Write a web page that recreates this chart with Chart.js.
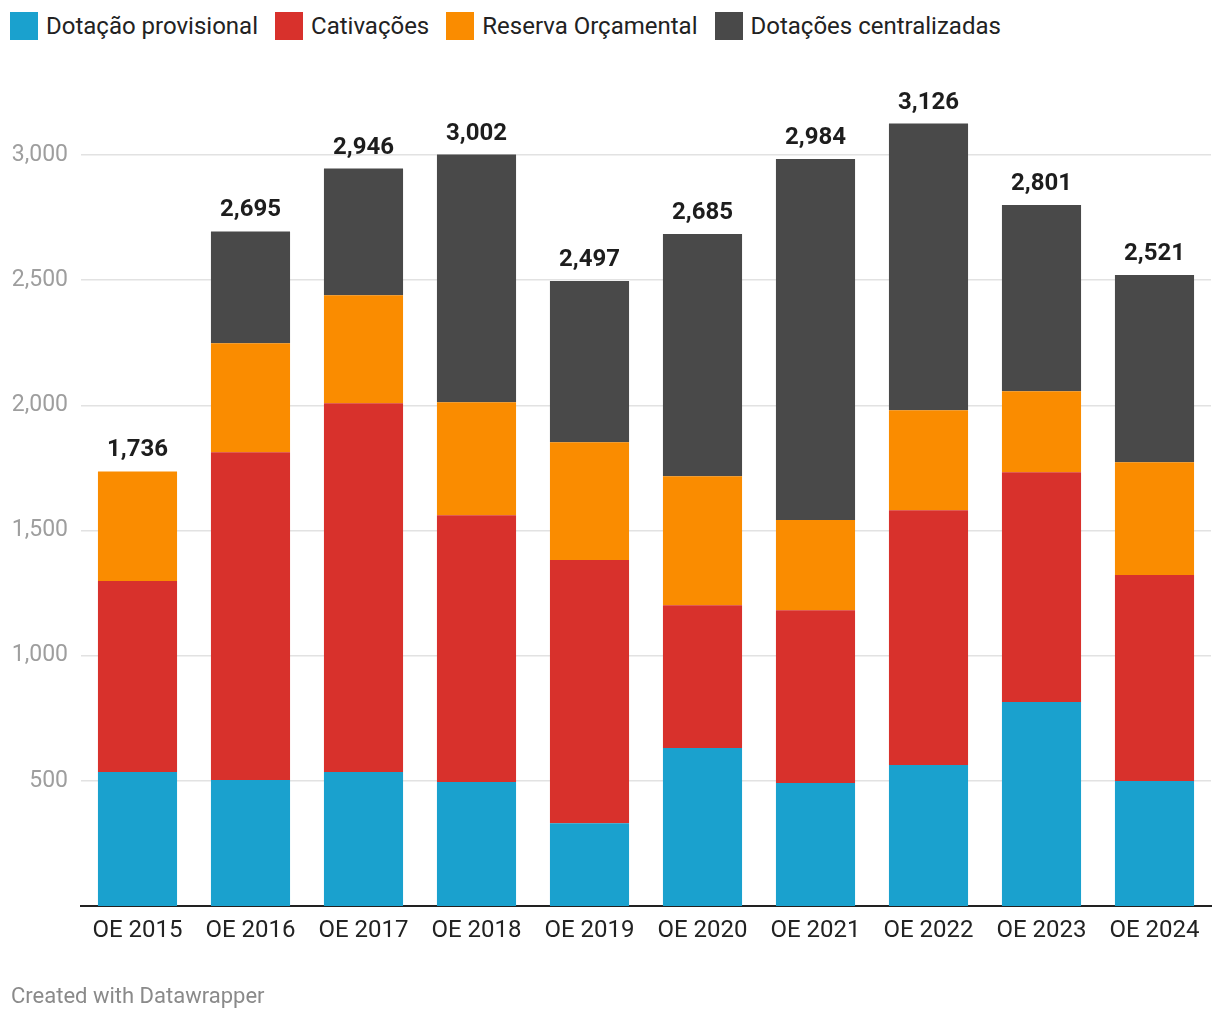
<!DOCTYPE html>
<html>
<head>
<meta charset="utf-8">
<script src="https://cdn.jsdelivr.net/npm/chart.js@4"></script>
<style>
  html, body { margin: 0; padding: 0; background: #fff; }
  body { width: 1220px; height: 1020px; position: relative; overflow: hidden; font-family: Roboto, sans-serif; }
  #legend { position: absolute; left: 10px; top: 12px; display: flex; align-items: center; font-size: 24px; color: #222; }
  .item { display: flex; align-items: center; margin-right: 17px; }
  .sw { width: 28px; height: 28px; margin-right: 8px; }
  #footer { position: absolute; left: 11px; top: 983px; font-size: 22px; color: #8a8a8a; }
  #wrap { position: absolute; left: 0; top: 0; width: 1220px; height: 1020px; }
</style>
</head>
<body>
<div id="legend"></div>
<div id="wrap"><canvas id="c" width="1220" height="1020"></canvas></div>
<div id="footer">Created with Datawrapper</div>
<script>
const categories = ["OE 2015","OE 2016","OE 2017","OE 2018","OE 2019","OE 2020","OE 2021","OE 2022","OE 2023","OE 2024"];
const seriesNames = ["Dotação provisional","Cativações","Reserva Orçamental","Dotações centralizadas"];
const dotacaoProvisional = [535, 503, 535, 495, 331, 631, 491, 563, 815, 499];
const cativacoes          = [763, 1310, 1474, 1066, 1051, 571, 691, 1018, 918, 823];
const reservaOrcamental   = [438, 435, 431, 452, 471, 515, 360, 400, 324, 451];
const dotacoesCentral     = [0, 447, 506, 989, 644, 968, 1442, 1145, 744, 748];
const yTicks = [500, 1000, 1500, 2000, 2500, 3000];
const colors = ["#1aa1ce", "#d8312c", "#fa8c00", "#494949"];

const seriesData = [dotacaoProvisional, cativacoes, reservaOrcamental, dotacoesCentral];

const legend = document.getElementById('legend');
seriesNames.forEach((n, i) => {
  const it = document.createElement('div'); it.className = 'item';
  const sw = document.createElement('div'); sw.className = 'sw'; sw.style.background = colors[i];
  const t = document.createElement('span'); t.textContent = n;
  it.appendChild(sw); it.appendChild(t); legend.appendChild(it);
});

const totalsPlugin = {
  id: 'totals',
  afterDatasetsDraw(chart) {
    const ctx = chart.ctx;
    const meta = chart.getDatasetMeta(0);
    const y = chart.scales.y;
    ctx.save();
    ctx.font = 'bold 24px Roboto';
    ctx.fillStyle = '#1d1d1d';
    ctx.textAlign = 'center';
    ctx.textBaseline = 'alphabetic';
    categories.forEach((c, i) => {
      const tot = seriesData.reduce((s, arr) => s + arr[i], 0);
      const x = meta.data[i].x;
      ctx.fillText(tot.toLocaleString('en-US'), x, y.getPixelForValue(tot) - 15);
    });
    ctx.restore();
  }
};

new Chart(document.getElementById('c'), {
  type: 'bar',
  data: {
    labels: categories,
    datasets: seriesNames.map((n, i) => ({
      label: n, data: seriesData[i], backgroundColor: colors[i], borderWidth: 0,
      barPercentage: 0.7, categoryPercentage: 1.0
    }))
  },
  options: {
    responsive: false,
    animation: false,
    devicePixelRatio: 1,
    layout: { padding: { top: 80, right: 9, bottom: 64, left: 0 } },
    plugins: { legend: { display: false }, tooltip: { enabled: false } },
    scales: {
      x: {
        stacked: true,
        grid: { display: false },
        border: { display: true, color: '#222', width: 2 },
        ticks: { color: '#222', font: { family: 'Roboto', size: 24 }, padding: 3 },
        afterFit(s) { s.height = 50; }
      },
      y: {
        stacked: true,
        min: 0, max: 3300,
        afterBuildTicks(s) { s.ticks = yTicks.map(v => ({ value: v })); },
        border: { display: false },
        grid: { color: '#e2e2e2', lineWidth: 1.5, drawTicks: false },
        ticks: {
          color: '#9e9e9e', font: { family: 'Roboto', size: 23 }, padding: 13,
          callback: v => v.toLocaleString('en-US')
        },
        afterFit(s) { s.width = 81; }
      }
    }
  },
  plugins: [totalsPlugin]
});
</script>
</body>
</html>
